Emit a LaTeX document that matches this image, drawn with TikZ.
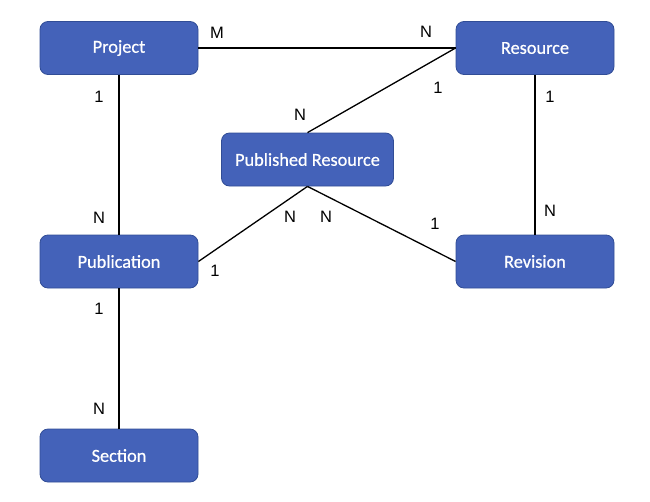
\documentclass[tikz,border=0pt]{standalone}
\usepackage{fontspec}
\setmainfont{Liberation Sans}
\newfontfamily\boxfont[FakeBold=0.6]{Carlito}
\definecolor{boxfill}{RGB}{68,98,185}
\definecolor{boxline}{RGB}{49,77,150}
\begin{document}
\begin{tikzpicture}[x=1pt,y=-1pt,
  entity/.style={draw=boxline,line width=0.8pt,fill=boxfill,rounded corners=8pt,
    minimum width=158pt,minimum height=53pt,inner sep=0pt,text=white,
    font=\boxfont\fontsize{18.3}{21}\selectfont},
  rel/.style={line width=1.3pt,black},
  card/.style={font=\fontsize{16.5}{19}\selectfont,inner sep=0pt}]
\useasboundingbox (0,0) rectangle (650,501);
\node[entity] (proj) at (119,48) {Project};
\node[entity] (res) at (535,48) {Resource};
\node[entity,minimum width=172pt] (pub) at (307.5,159.5) {Published Resource};
\node[entity] (publ) at (119,261.5) {Publication};
\node[entity] (rev) at (535,261.5) {Revision};
\node[entity] (sec) at (119,455.5) {Section};
\draw[rel] (proj.east) -- (res.west);
\draw[rel] (res.west) -- (pub.north);
\draw[rel] (pub.south) -- (publ.east);
\draw[rel] (pub.south) -- (rev.west);
\draw[rel] (proj.south) -- (publ.north);
\draw[rel] (res.south) -- (rev.north);
\draw[rel] (publ.south) -- (sec.north);
\node[card] (c1) at (217,33) {M};
\node[card] (c2) at (426,32) {N};
\node[card] (c3) at (300,115) {N};
\node[card] (c4) at (438,88) {1};
\node[card] (c5) at (290,217) {N};
\node[card] (c6) at (215,271) {1};
\node[card] (c7) at (326,217) {N};
\node[card] (c8) at (435,224) {1};
\node[card] (c9) at (99,97) {1};
\node[card] (c10) at (99,218) {N};
\node[card] (c11) at (550,97) {1};
\node[card] (c12) at (550,211) {N};
\node[card] (c13) at (99,309) {1};
\node[card] (c14) at (99,409) {N};
\end{tikzpicture}
\end{document}
